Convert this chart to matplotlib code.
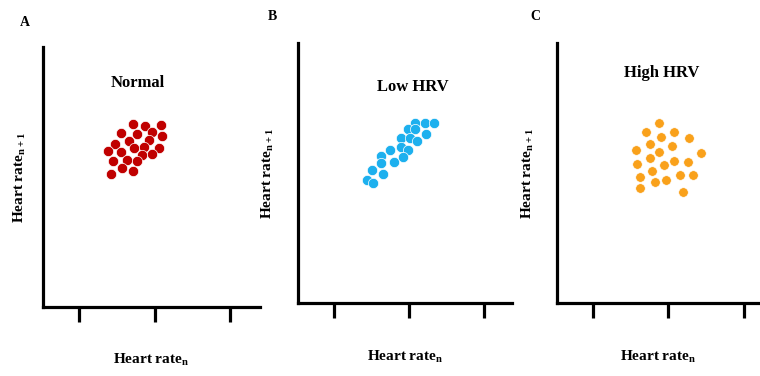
import numpy as np
import matplotlib
matplotlib.use('Agg')
import matplotlib.pyplot as plt

plt.rcParams['font.family'] = ['Liberation Serif', 'DejaVu Serif']
plt.rcParams['font.weight'] = 'bold'
plt.rcParams['mathtext.fontset'] = 'custom'
plt.rcParams['mathtext.rm'] = 'Liberation Serif:bold'

# 三个面板的散点数据（x轴刻度位于1、2、3）
normal_x = [1.71, 1.87, 2.08, 1.56, 1.77, 1.97, 2.10, 1.48, 1.66, 1.92, 1.38, 1.56,
            1.73, 1.86, 2.06, 1.45, 1.63, 1.84, 1.97, 1.77, 1.42, 1.57, 1.71]
normal_y = [2.42, 2.40, 2.41, 2.30, 2.29, 2.32, 2.26, 2.16, 2.20, 2.21, 2.06, 2.05,
            2.11, 2.12, 2.11, 1.94, 1.95, 2.01, 2.03, 1.93, 1.76, 1.84, 1.80]

low_x = [2.08, 2.21, 2.33, 1.99, 2.08, 2.22, 1.89, 2.01, 2.11, 1.75,
         1.89, 1.99, 1.63, 1.80, 1.92, 1.63, 1.50, 1.65, 1.44, 1.52]
low_y = [2.40, 2.40, 2.39, 2.31, 2.31, 2.25, 2.20, 2.20, 2.15, 2.04,
         2.07, 2.04, 1.96, 1.87, 1.94, 1.86, 1.77, 1.72, 1.64, 1.60]

high_x = [1.88, 1.71, 2.08, 2.28, 1.91, 1.76, 2.05, 1.57, 1.88, 2.43, 1.76, 1.59,
          1.94, 2.08, 2.26, 1.78, 1.63, 2.15, 2.33, 1.82, 1.97, 1.63, 2.19]
high_y = [2.38, 2.27, 2.27, 2.18, 2.20, 2.11, 2.08, 2.03, 2.00, 1.99, 1.92, 1.84,
          1.83, 1.88, 1.87, 1.75, 1.67, 1.70, 1.70, 1.61, 1.63, 1.53, 1.47]

panel_letters = ['A', 'B', 'C']
panel_titles = ['Normal', 'Low HRV', 'High HRV']
xticks = [1, 2, 3]

fig = plt.figure(figsize=(7.6, 3.76), dpi=100)

# 每个面板：axes位置、坐标范围、散点、颜色、标题位置
panels = [
    dict(rect=[0.0562, 0.1835, 0.286, 0.6915], xlim=(0.519, 3.397), ylim=(0, 3.444),
         x=normal_x, y=normal_y, color='#C00000', s=55,
         title_xy=(0.439, 0.862), ylab_x=-0.104, letter_xy=(0.033, 0.941)),
    dict(rect=[0.3917, 0.194, 0.2816, 0.6915], xlim=(0.517, 3.363), ylim=(0, 3.457),
         x=low_x, y=low_y, color='#1DB0EE', s=55,
         title_xy=(0.539, 0.831), ylab_x=-0.139, letter_xy=(0.358, 0.955)),
    dict(rect=[0.7325, 0.194, 0.2675, 0.6915], xlim=(0.523, 3.216), ylim=(0, 3.444),
         x=high_x, y=high_y, color='#F9A11B', s=48,
         title_xy=(0.516, 0.886), ylab_x=-0.141, letter_xy=(0.705, 0.955)),
]

for i, p in enumerate(panels):
    ax = fig.add_axes(p['rect'])
    ax.scatter(p['x'], p['y'], s=p['s'], color=p['color'], edgecolors='white', linewidths=0.5, zorder=3)
    ax.set_xlim(*p['xlim'])
    ax.set_ylim(*p['ylim'])
    ax.spines['top'].set_visible(False)
    ax.spines['right'].set_visible(False)
    ax.spines['left'].set_linewidth(2.3)
    ax.spines['bottom'].set_linewidth(2.3)
    ax.set_xticks(xticks)
    ax.set_xticklabels([])
    ax.set_yticks([])
    ax.tick_params(axis='x', direction='out', length=11, width=2.3)

    ax.text(p['title_xy'][0], p['title_xy'][1], panel_titles[i], transform=ax.transAxes,
            ha='center', va='center', fontsize=12, fontweight='bold')
    ax.text(0.5, -0.204 if i == 0 else -0.208, r'Heart rate$_\mathregular{n}$', transform=ax.transAxes,
            ha='center', va='center', fontsize=11, fontweight='bold')
    ax.text(p['ylab_x'], 0.5, r'Heart rate$_\mathregular{n+1}$', transform=ax.transAxes,
            ha='center', va='center', rotation=90, fontsize=11, fontweight='bold')
    fig.text(p['letter_xy'][0], p['letter_xy'][1], panel_letters[i],
             ha='center', va='center', fontsize=10, fontweight='bold')

plt.savefig('out.png', dpi=100)
plt.close()
